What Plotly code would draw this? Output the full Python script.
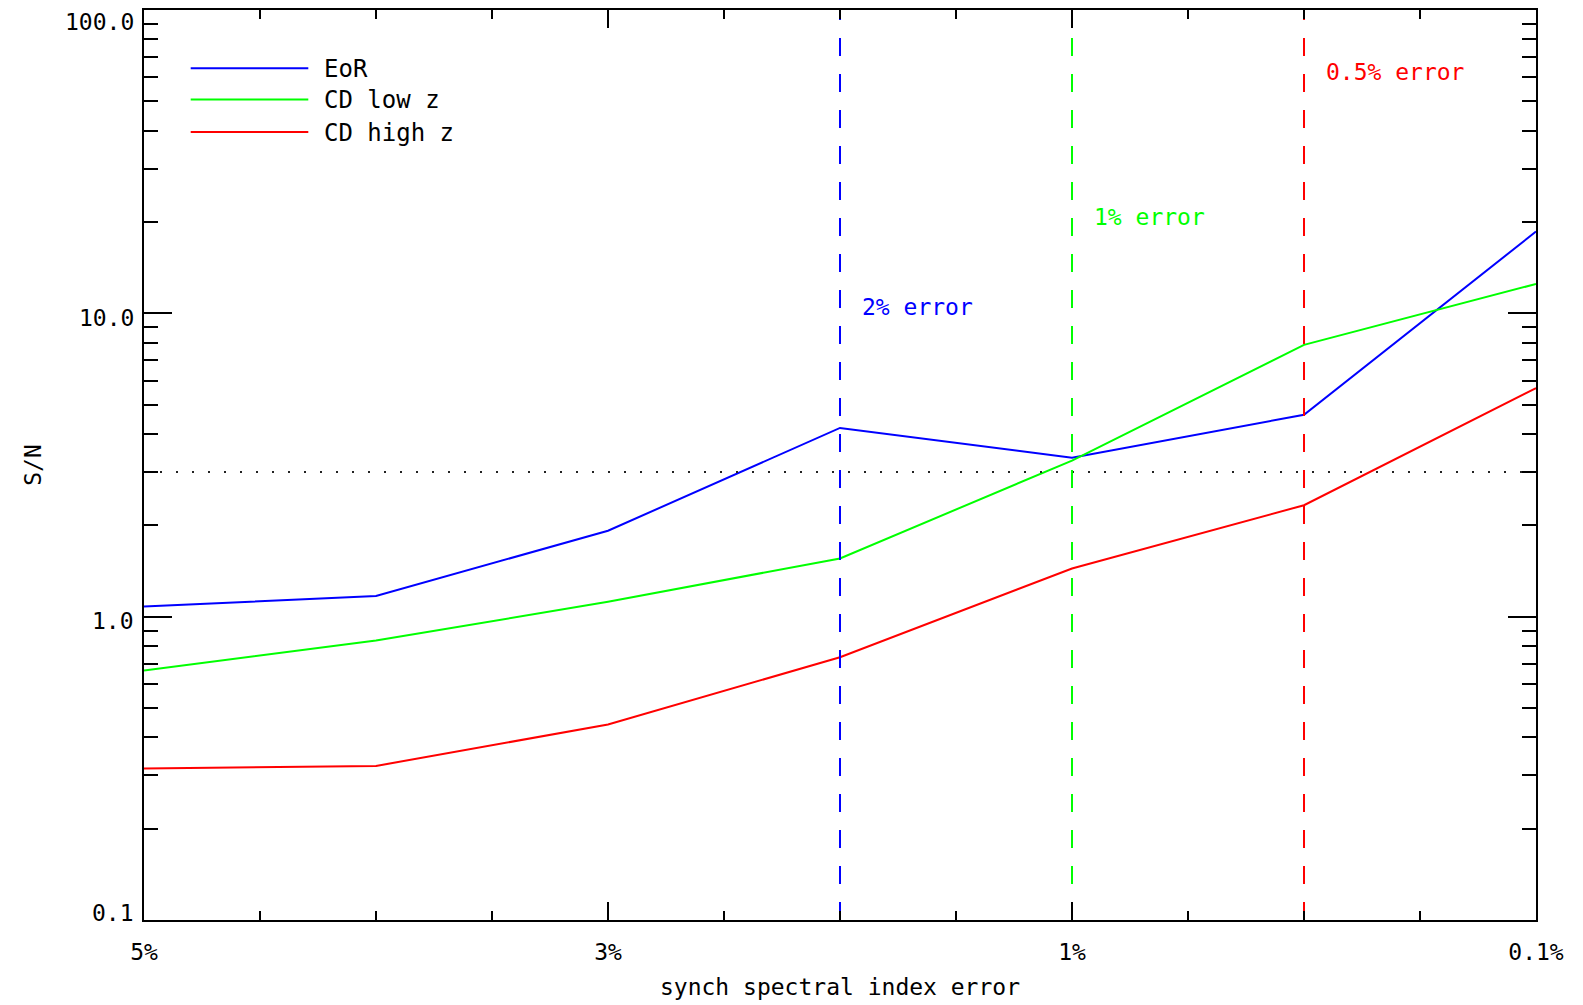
import math
import plotly.graph_objects as go

# ---------------- data ----------------
categories = ["5%", "4%", "3%", "2%", "1%", "0.5%", "0.1%"]
eor = [1.08, 1.17, 1.92, 4.19, 3.34, 4.63, 18.6]
cd_low_z = [0.665, 0.834, 1.12, 1.556, 3.27, 7.87, 12.5]
cd_high_z = [0.316, 0.322, 0.441, 0.735, 1.442, 2.33, 5.67]
series_names = ["EoR", "CD low z", "CD high z"]
series_colors = ["#0000ff", "#00ff00", "#ff0000"]

threshold_categories = ["2%", "1%", "0.5%"]
threshold_labels = ["2% error", "1% error", "0.5% error"]
threshold_label_y = [10.5, 20.7, 62.5]
detection_level = 3.0

x_tick_labels = ["5%", "3%", "1%", "0.1%"]
y_major_vals = [0.1, 1, 10, 100]
y_major_text = ["0.1", "1.0", "10.0", "100.0"]
y_minor_vals = [m * d for d in (0.1, 1, 10) for m in range(2, 10)]

# ---------------- layout constants ----------------
W, H = 1583, 1005
ML, MR, MT, MB = 144, 47, 10, 85
FONT = "DejaVu Sans Mono"
FS = 23
FS_LEG = 24
y_label_shift = [7, -4, -5, -12]   # IDL-style vertical placement of the y tick labels

xpos = list(range(len(categories)))
fig = go.Figure()

series_values = [eor, cd_low_z, cd_high_z]
for name, vals, col in zip(series_names, series_values, series_colors):
    fig.add_trace(go.Scatter(x=xpos, y=vals, mode="lines", name=name,
                             line=dict(color=col, width=2), showlegend=False))

# detection level (dotted)
fig.add_trace(go.Scatter(x=[xpos[0], xpos[-1]], y=[detection_level, detection_level],
                         mode="lines", line=dict(color="#222222", width=2, dash="2px,14px"),
                         showlegend=False, hoverinfo="skip"))

# threshold dashed vertical lines + labels
for cat, lab, ly, col in zip(threshold_categories, threshold_labels, threshold_label_y, series_colors):
    xi = categories.index(cat)
    fig.add_trace(go.Scatter(x=[xi, xi], y=[y_major_vals[0], y_major_vals[-1]], mode="lines",
                             line=dict(color=col, width=2, dash="18px,18px"),
                             showlegend=False, hoverinfo="skip"))
    fig.add_annotation(x=xi, y=math.log10(ly), text=lab, showarrow=False,
                       xanchor="left", yanchor="middle", xshift=20,
                       font=dict(family=FONT, size=FS, color=col))

# y tick labels (placed like the original, kept inside the frame at the ends)
for v, t, s in zip(y_major_vals, y_major_text, y_label_shift):
    fig.add_annotation(xref="paper", yref="y", x=0, y=math.log10(v), text=t,
                       showarrow=False, xanchor="right", yanchor="middle",
                       xshift=-8, yshift=s,
                       font=dict(family=FONT, size=FS, color="black"))

# manual legend (long line samples like the original)
PW = W - ML - MR
PH = H - MT - MB
def px_x(px):
    return (px - ML) / PW
def px_y(py):
    return (H - MB - py) / PH

legend_rows_y = [68.3, 99.5, 132.0]
for name, col, ry in zip(series_names, series_colors, legend_rows_y):
    fig.add_shape(type="line", xref="paper", yref="paper",
                  x0=px_x(190.7), x1=px_x(308.3), y0=px_y(ry), y1=px_y(ry),
                  line=dict(color=col, width=2))
    fig.add_annotation(xref="paper", yref="paper", x=px_x(322), y=px_y(ry + 1),
                       text=name, showarrow=False, xanchor="left", yanchor="middle",
                       font=dict(family=FONT, size=FS_LEG, color="black"))

fig.update_xaxes(
    range=[xpos[0], xpos[-1]],
    tickmode="array",
    tickvals=[categories.index(t) for t in x_tick_labels],
    ticktext=x_tick_labels,
    ticks="inside", ticklen=18, tickwidth=2, tickcolor="black",
    minor=dict(ticks="inside", ticklen=9, tickwidth=2, tickcolor="black", dtick=0.5, tick0=0),
    showline=True, linewidth=2, linecolor="black", mirror="allticks",
    showgrid=False, zeroline=False,
    tickfont=dict(family=FONT, size=FS, color="black"),
    ticklabelstandoff=10, ticklabeloverflow="allow",
    title=dict(text="synch spectral index error", font=dict(family=FONT, size=FS, color="black"),
               standoff=15),
)
fig.update_yaxes(
    type="log",
    range=[-1, 2],
    tickmode="array",
    tickvals=y_major_vals,
    ticktext=y_major_text,
    showticklabels=False,
    ticks="inside", ticklen=28, tickwidth=2, tickcolor="black",
    minor=dict(ticks="inside", ticklen=14, tickwidth=2, tickcolor="black",
               tickmode="array", tickvals=y_minor_vals),
    showline=True, linewidth=2, linecolor="black", mirror="allticks",
    showgrid=False, zeroline=False,
    title=dict(text="S/N", font=dict(family=FONT, size=FS, color="black"), standoff=94),
)

fig.update_layout(
    width=W, height=H, autosize=False,
    margin=dict(l=ML, r=MR, t=MT, b=MB, autoexpand=False),
    plot_bgcolor="white", paper_bgcolor="white",
    showlegend=False,
)

fig.write_html("out.html", config={"displayModeBar": False},
               post_script="document.body.style.margin='0px';")
